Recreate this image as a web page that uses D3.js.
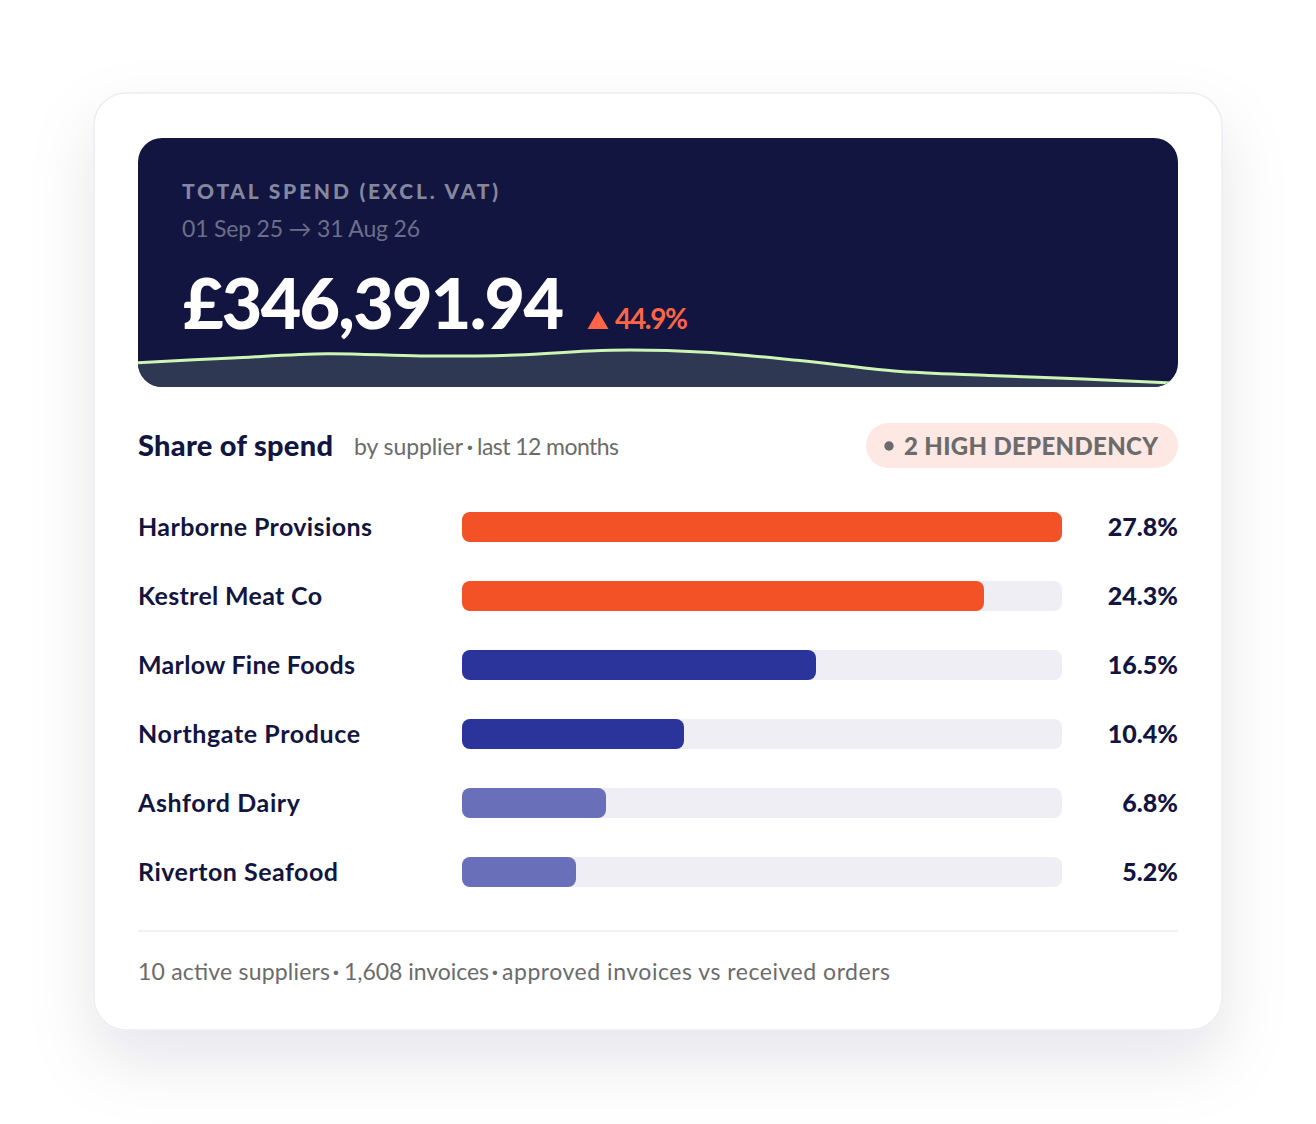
<!DOCTYPE html>
<html>
<head>
<meta charset="utf-8">
<script src="https://cdn.jsdelivr.net/npm/d3@7"></script>
<style>
  html, body { margin: 0; padding: 0; background: #fff; }
  svg { display: block; }
  text { font-family: Lato, "Noto Sans", sans-serif; }
</style>
</head>
<body>
<div class="chart"></div>
<script>
// supplier share, last 12 months
var suppliers = ["Harborne Provisions", "Kestrel Meat Co", "Marlow Fine Foods", "Northgate Produce", "Ashford Dairy", "Riverton Seafood"];
var shares = [27.8, 24.3, 16.5, 10.4, 6.8, 5.2];
// bar fill, percent of the track (the largest share fills it)
var barFill = [100, 87, 59, 37, 24, 19];
var tiers = ["high", "high", "mid", "mid", "low", "low"];
// monthly spend estimate, £k, read off the header sparkline
var months = ["Sep", "Oct", "Nov", "Dec", "Jan", "Feb", "Mar", "Apr", "May", "Jun", "Jul", "Aug"];
var monthlySpend = [30.0, 35.8, 41.0, 38.2, 39.4, 45.3, 42.9, 32.6, 19.7, 14.2, 9.9, 4.7];

var tierColor = { high: "#f35126", mid: "#2b349b", low: "#6a6fb9" };
var navy = "#12153f";

var svg = d3.select(".chart").append("svg")
    .attr("width", 1316)
    .attr("height", 1124);

var defs = svg.append("defs");

var shadow = defs.append("filter")
    .attr("id", "cardShadow")
    .attr("x", "-20%").attr("y", "-20%")
    .attr("width", "140%").attr("height", "140%");
shadow.append("feDropShadow")
    .attr("dx", 0).attr("dy", 30)
    .attr("stdDeviation", 32)
    .attr("flood-color", "#1a1d3a")
    .attr("flood-opacity", 0.1);

defs.append("clipPath").attr("id", "heroClip")
  .append("rect")
    .attr("x", 138).attr("y", 138)
    .attr("width", 1040).attr("height", 249)
    .attr("rx", 24);

// card
svg.append("rect")
    .attr("x", 94).attr("y", 93)
    .attr("width", 1128).attr("height", 937)
    .attr("rx", 32)
    .attr("fill", "#fff")
    .attr("stroke", "#edecf1")
    .attr("stroke-width", 1.5)
    .attr("filter", "url(#cardShadow)");

// fit a text to the width it has in the design
function label(parent, x, y, str, size, weight, color, width, anchor) {
  var t = parent.append("text")
      .attr("x", x).attr("y", y)
      .attr("font-size", size)
      .attr("font-weight", weight)
      .attr("fill", color)
      .attr("text-anchor", anchor || "start")
      .text(str);
  if (width) t.attr("textLength", width).attr("lengthAdjust", "spacing");
  return t;
}

// dark header
var hero = svg.append("g").attr("clip-path", "url(#heroClip)");
hero.append("rect")
    .attr("x", 138).attr("y", 138)
    .attr("width", 1040).attr("height", 249)
    .attr("fill", navy);

var xSpark = d3.scalePoint().domain(months).range([138, 1178]);
var ySpark = d3.scaleLinear().domain([0, 50]).range([387, 346.4]);

var area = d3.area()
    .x(function(d, i) { return xSpark(months[i]); })
    .y0(387)
    .y1(function(d) { return ySpark(d); })
    .curve(d3.curveCatmullRom);
var line = d3.line()
    .x(function(d, i) { return xSpark(months[i]); })
    .y(function(d) { return ySpark(d); })
    .curve(d3.curveCatmullRom);

hero.append("path")
    .datum(monthlySpend)
    .attr("d", area)
    .attr("fill", "#2f3852");
hero.append("path")
    .datum(monthlySpend)
    .attr("d", line)
    .attr("fill", "none")
    .attr("stroke", "#cdf5b4")
    .attr("stroke-width", 3);

label(svg, 182, 199, "TOTAL SPEND (EXCL. VAT)", 21, 900, "#85879e", 316);
label(svg, 182, 237, "01 Sep 25 → 31 Aug 26", 23, 400, "#6c6e8b", 238);
label(svg, 183, 329, "£346,391.94", 70, 900, "#fff", 381);

var tri = d3.symbol().type(d3.symbolTriangle).size(190);
svg.append("path")
    .attr("d", tri)
    .attr("transform", "translate(598,323)")
    .attr("fill", "#ff6647");
label(svg, 615, 329, "44.9%", 28, 700, "#ff6647", 73);

// section head
label(svg, 138, 456, "Share of spend", 29, 900, navy, 195);
label(svg, 354, 455, "by supplier", 23, 400, "#6b6b6b", 109);
label(svg, 470, 455, "·", 23, 700, "#6b6b6b", null, "middle");
label(svg, 477, 455, "last 12 months", 23, 400, "#6b6b6b", 142);

svg.append("rect")
    .attr("x", 866).attr("y", 423)
    .attr("width", 312).attr("height", 45)
    .attr("rx", 22.5)
    .attr("fill", "#fde8e4");
svg.append("circle")
    .attr("cx", 889).attr("cy", 446).attr("r", 4.7)
    .attr("fill", "#6b6b6b");
label(svg, 904, 455, "2 HIGH DEPENDENCY", 24, 900, "#6b6b6b", 254);

// bars
var nameWidths = [234, 184, 217, 222, 162, 200];
var y = d3.scaleBand().domain(suppliers).range([492.5, 906.5]).paddingInner(0.5652).paddingOuter(0.2826);
var x = d3.scaleLinear().domain([0, 100]).range([0, 600]);

var rows = svg.selectAll("g.row")
    .data(suppliers)
    .enter().append("g")
    .attr("class", "row")
    .attr("transform", function(d) { return "translate(0," + y(d) + ")"; });

rows.append("rect")
    .attr("x", 462)
    .attr("width", x(100))
    .attr("height", y.bandwidth())
    .attr("rx", 8)
    .attr("fill", "#efeef4");

rows.append("rect")
    .attr("x", 462)
    .attr("width", function(d, i) { return x(barFill[i]); })
    .attr("height", y.bandwidth())
    .attr("rx", 8)
    .attr("fill", function(d, i) { return tierColor[tiers[i]]; });

rows.each(function(d, i) {
  var row = d3.select(this);
  var mid = y.bandwidth() / 2 + 8.5;
  label(row, 138, mid, d, 25, 700, navy, nameWidths[i]);
  label(row, 1178, mid, shares[i].toFixed(1) + "%", 25, 900, navy, null, "end");
});

// footer
svg.append("line")
    .attr("x1", 138).attr("x2", 1178)
    .attr("y1", 931).attr("y2", 931)
    .attr("stroke", "#edecf1")
    .attr("stroke-width", 1.5);
label(svg, 138, 980, "10 active suppliers", 23, 400, "#6b6b6b", 192);
label(svg, 336, 980, "·", 23, 700, "#6b6b6b", null, "middle");
label(svg, 344, 980, "1,608 invoices", 23, 400, "#6b6b6b", 145);
label(svg, 495, 980, "·", 23, 700, "#6b6b6b", null, "middle");
label(svg, 502, 980, "approved invoices vs received orders", 23, 400, "#6b6b6b", 388);
</script>
</body>
</html>
